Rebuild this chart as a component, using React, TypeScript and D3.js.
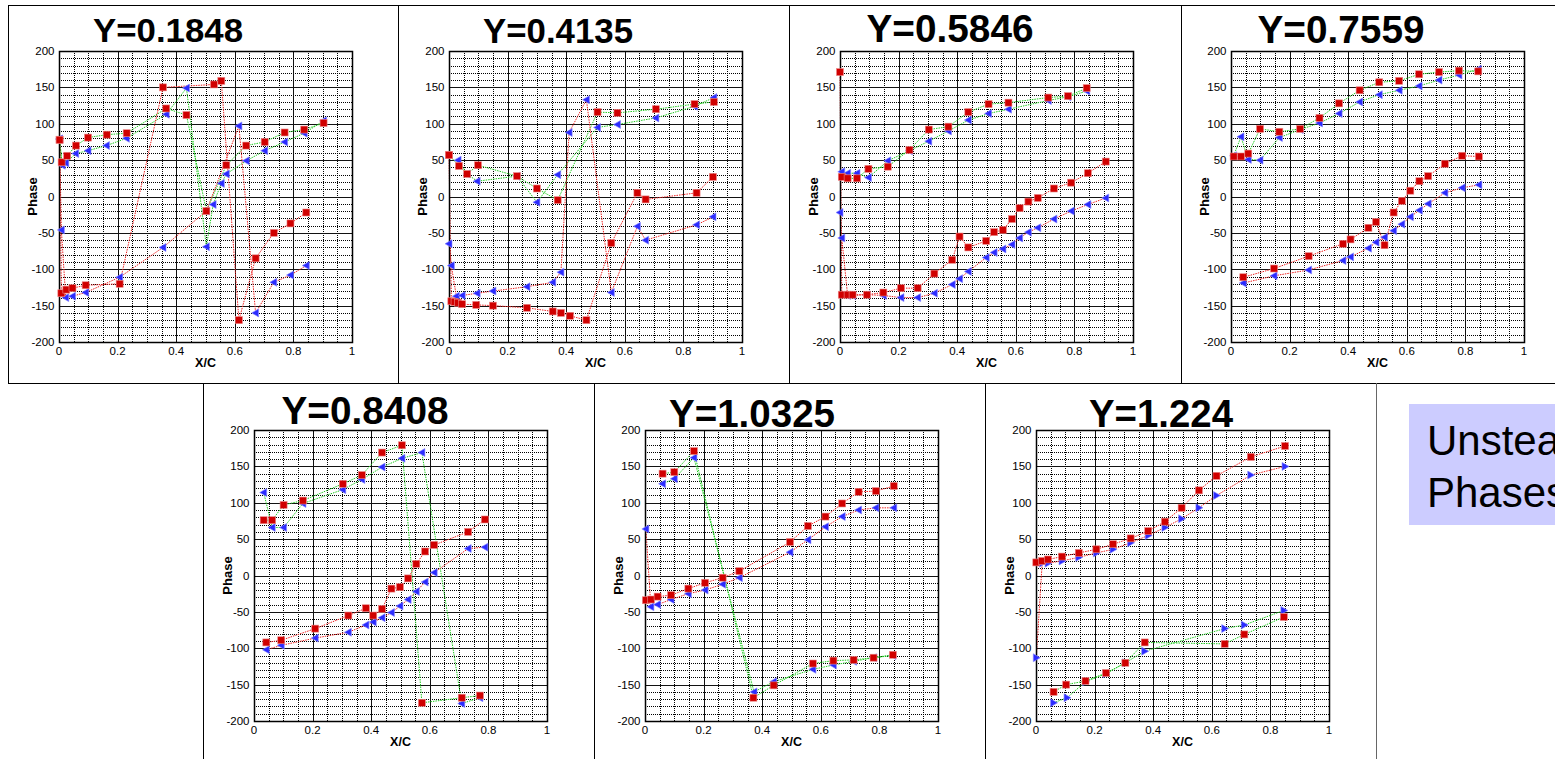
import React from "react";
import * as d3 from "d3";

type Pt = [number, number];

const titles = ["Y=0.1848", "Y=0.4135", "Y=0.5846", "Y=0.7559", "Y=0.8408", "Y=1.0325", "Y=1.224"];
const xTicks = [0, 0.2, 0.4, 0.6, 0.8, 1];
const yTicks = [-200, -150, -100, -50, 0, 50, 100, 150, 200];
const labelLines = ["Unsteady", "Phases"];

// Y=0.1848
const sqGreen1: Pt[] = [[0.002, 78], [0.009, 47], [0.028, 56], [0.058, 70], [0.099, 81], [0.163, 85], [0.231, 87], [0.366, 121], [0.435, 112], [0.503, -20], [0.571, 43], [0.639, 70], [0.702, 75], [0.77, 88], [0.837, 92], [0.903, 101]];
const sqRed1: Pt[] = [[0.002, 78], [0.008, -133], [0.025, -128], [0.046, -126], [0.091, -122], [0.207, -120], [0.355, 150], [0.529, 154], [0.554, 159], [0.614, -170], [0.671, -85], [0.733, -50], [0.79, -37], [0.844, -22]];
const triGreen1: Pt[] = [[0.002, 79], [0.011, 43], [0.023, 46], [0.057, 59], [0.099, 63], [0.162, 70], [0.23, 80], [0.366, 113], [0.435, 149], [0.503, -69], [0.526, -11], [0.554, 18], [0.571, 31], [0.639, 49], [0.702, 63], [0.77, 75], [0.837, 87], [0.903, 104]];
const triRed1: Pt[] = [[0.002, 79], [0.008, -46], [0.023, -139], [0.046, -137], [0.091, -132], [0.207, -111], [0.355, -70], [0.503, -20], [0.614, 97], [0.671, -160], [0.733, -118], [0.79, -108], [0.844, -95]];

// Y=0.4135
const sqGreen2: Pt[] = [[0, 57], [0.034, 42], [0.062, 31], [0.099, 43], [0.232, 28], [0.3, 11], [0.371, -5], [0.507, 116], [0.575, 115], [0.706, 120], [0.838, 127], [0.904, 130]];
const sqRed2: Pt[] = [[0, 57], [0.008, -144], [0.019, -145], [0.031, -146], [0.045, -148], [0.093, -149], [0.15, -150], [0.266, -153], [0.354, -158], [0.382, -160], [0.413, -164], [0.469, -170], [0.554, -64], [0.643, 5], [0.671, -4], [0.845, 5], [0.901, 27]];
const triGreen2: Pt[] = [[0.031, 50], [0.062, 31], [0.096, 21], [0.232, 28], [0.3, -8], [0.371, 30], [0.507, 95], [0.575, 99], [0.706, 108], [0.838, 124], [0.904, 136]];
const triRed2: Pt[] = [[0, -65], [0.008, -95], [0.025, -137], [0.045, -136], [0.096, -133], [0.15, -130], [0.266, -124], [0.354, -118], [0.382, -104], [0.41, 88], [0.469, 133], [0.554, -132], [0.643, -41], [0.671, -60], [0.845, -39], [0.901, -28]];

// Y=0.5846
const sqGreen3: Pt[] = [[0.006, 27], [0.026, 25], [0.058, 25], [0.097, 38], [0.163, 41], [0.237, 64], [0.303, 92], [0.37, 96], [0.438, 116], [0.507, 127], [0.575, 129], [0.711, 136], [0.778, 138], [0.842, 149]];
const sqRed3: Pt[] = [[0, 171], [0.006, -135], [0.026, -135], [0.043, -135], [0.092, -135], [0.148, -132], [0.208, -126], [0.265, -126], [0.322, -106], [0.383, -87], [0.408, -55], [0.438, -70], [0.499, -61], [0.526, -49], [0.556, -46], [0.587, -31], [0.613, -16], [0.643, -7], [0.675, -2], [0.73, 11], [0.789, 19], [0.846, 32], [0.907, 48]];
const triGreen3: Pt[] = [[0.006, 34], [0.026, 32], [0.058, 32], [0.097, 26], [0.163, 49], [0.237, 63], [0.303, 76], [0.37, 90], [0.438, 105], [0.507, 114], [0.575, 120], [0.711, 132], [0.778, 137], [0.842, 145]];
const triRed3: Pt[] = [[0, -22], [0.006, -57], [0.026, -136], [0.043, -136], [0.092, -135], [0.148, -136], [0.208, -139], [0.265, -139], [0.322, -133], [0.383, -121], [0.408, -113], [0.438, -103], [0.499, -84], [0.526, -77], [0.556, -72], [0.587, -66], [0.613, -57], [0.643, -49], [0.675, -43], [0.73, -31], [0.789, -20], [0.846, -11], [0.907, -2]];

// Y=0.7559
const sqGreen4: Pt[] = [[0.009, 55], [0.034, 55], [0.059, 59], [0.099, 93], [0.165, 89], [0.236, 93], [0.302, 108], [0.369, 128], [0.439, 146], [0.506, 157], [0.574, 159], [0.642, 168], [0.71, 171], [0.778, 173], [0.844, 172]];
const sqRed4: Pt[] = [[0.042, -111], [0.147, -99], [0.265, -82], [0.382, -65], [0.408, -59], [0.469, -43], [0.495, -35], [0.524, -67], [0.555, -22], [0.583, -6], [0.612, 8], [0.643, 21], [0.673, 28], [0.73, 45], [0.789, 56], [0.846, 55]];
const triGreen4: Pt[] = [[0.009, 56], [0.034, 82], [0.059, 51], [0.099, 50], [0.165, 81], [0.236, 92], [0.302, 101], [0.369, 114], [0.439, 130], [0.506, 140], [0.574, 146], [0.642, 152], [0.71, 160], [0.778, 167], [0.844, 175]];
const triRed4: Pt[] = [[0.042, -119], [0.147, -109], [0.265, -101], [0.382, -88], [0.408, -83], [0.469, -71], [0.495, -63], [0.524, -56], [0.555, -47], [0.583, -38], [0.612, -28], [0.643, -19], [0.673, -10], [0.73, 5], [0.789, 12], [0.846, 16]];

// Y=0.8408
const sqGreen5: Pt[] = [[0.033, 76], [0.062, 76], [0.101, 97], [0.167, 103], [0.303, 126], [0.368, 138], [0.437, 169], [0.505, 179], [0.573, -175], [0.709, -168], [0.771, -165]];
const sqRed5: Pt[] = [[0.042, -92], [0.093, -89], [0.209, -73], [0.322, -55], [0.382, -45], [0.407, -55], [0.437, -46], [0.469, -18], [0.498, -16], [0.526, -4], [0.554, 16], [0.584, 33], [0.615, 42], [0.731, 60], [0.788, 77]];
const triGreen5: Pt[] = [[0.033, 114], [0.062, 66], [0.101, 66], [0.167, 99], [0.303, 118], [0.368, 132], [0.437, 149], [0.505, 161], [0.573, 169], [0.709, -176], [0.771, -168]];
const triRed5: Pt[] = [[0.042, -102], [0.093, -96], [0.209, -86], [0.322, -78], [0.382, -68], [0.407, -64], [0.437, -58], [0.469, -51], [0.498, -42], [0.526, -33], [0.554, -22], [0.584, -9], [0.615, 4], [0.731, 37], [0.788, 39]];

// Y=1.0325
const sqGreen6: Pt[] = [[0.06, 140], [0.1, 142], [0.167, 171], [0.37, -168], [0.439, -151], [0.573, -121], [0.643, -117], [0.712, -116], [0.78, -113], [0.846, -109]];
const sqRed6: Pt[] = [[0.003, -34], [0.02, -33], [0.043, -29], [0.089, -27], [0.148, -18], [0.205, -10], [0.265, -3], [0.322, 6], [0.495, 46], [0.556, 68], [0.616, 81], [0.673, 99], [0.729, 115], [0.788, 116], [0.849, 123]];
const triGreen6: Pt[] = [[0.06, 126], [0.1, 133], [0.167, 162], [0.372, -160], [0.439, -146], [0.573, -129], [0.643, -123], [0.712, -118], [0.78, -113], [0.846, -110]];
const triRed6: Pt[] = [[0.003, 64], [0.02, -43], [0.043, -40], [0.089, -33], [0.148, -25], [0.205, -20], [0.265, -12], [0.322, -3], [0.495, 32], [0.556, 49], [0.616, 67], [0.673, 81], [0.729, 90], [0.788, 93], [0.849, 93]];

// Y=1.224
const sqGreen7: Pt[] = [[0.06, -160], [0.103, -150], [0.169, -145], [0.239, -134], [0.305, -120], [0.371, -92], [0.644, -94], [0.711, -81], [0.846, -57]];
const sqRed7: Pt[] = [[0.001, 18], [0.021, 20], [0.041, 22], [0.089, 26], [0.146, 31], [0.206, 36], [0.263, 43], [0.323, 51], [0.383, 61], [0.44, 74], [0.497, 93], [0.556, 117], [0.616, 137], [0.733, 163], [0.85, 178]];
const triGreen7: Pt[] = [[0.06, -175], [0.106, -168], [0.169, -146], [0.239, -135], [0.305, -120], [0.371, -104], [0.644, -73], [0.711, -68], [0.846, -48]];
const triRed7: Pt[] = [[0.001, -113], [0.021, 17], [0.041, 17], [0.089, 20], [0.146, 25], [0.206, 31], [0.263, 36], [0.323, 45], [0.383, 55], [0.44, 66], [0.497, 78], [0.556, 93], [0.616, 110], [0.733, 138], [0.85, 150]];

const panels = [
  { sqGreen: sqGreen1, sqRed: sqRed1, triGreen: triGreen1, triRed: triRed1 },
  { sqGreen: sqGreen2, sqRed: sqRed2, triGreen: triGreen2, triRed: triRed2 },
  { sqGreen: sqGreen3, sqRed: sqRed3, triGreen: triGreen3, triRed: triRed3 },
  { sqGreen: sqGreen4, sqRed: sqRed4, triGreen: triGreen4, triRed: triRed4 },
  { sqGreen: sqGreen5, sqRed: sqRed5, triGreen: triGreen5, triRed: triRed5 },
  { sqGreen: sqGreen6, sqRed: sqRed6, triGreen: triGreen6, triRed: triRed6 },
  { sqGreen: sqGreen7, sqRed: sqRed7, triGreen: triGreen7, triRed: triRed7 },
];

// layout
const plotW = 293;
const plotH = 291;
const plotPos: Pt[] = [[59, 51], [449, 51], [840, 51], [1231, 51], [254, 430], [645, 430], [1036, 430]];
const titleSize = [33, 35, 38, 38, 38, 38, 38];
const titleLen = [150, 150, 167, 167, 167, 166, 144];
const titleDx = [109, 109, 110, 110, 111, 107, 125];
const titleDy = [-9, -8, -9, -8, -6, -3.5, -3.5];
const triRight = [false, false, false, false, false, false, true];

const FONT = "'Liberation Sans', Arial, Helvetica, sans-serif";

const xScale = d3.scaleLinear().domain([0, 1]).range([0, plotW]);
const yScale = d3.scaleLinear().domain([-200, 200]).range([plotH, 0]);
const line = d3.line<Pt>().x(d => xScale(d[0])).y(d => yScale(d[1]));

const xMinor = d3.range(1, 20).filter(i => i % 4 !== 0).map(i => i * 0.05);
const yMinor = d3.range(-19, 20).filter(i => i % 5 !== 0).map(i => i * 10);

const px = (v: number) => Math.round(xScale(v)) + 0.5;
const py = (v: number) => Math.round(yScale(v)) + 0.5;

function Panel({ i }: { i: number }) {
  const p = panels[i];
  const [left, top] = plotPos[i];
  const triPath = triRight[i] ? "M4,0L-3,-4L-3,4Z" : "M-4,0L3,-4L3,4Z";
  const lineStyle = { fill: "none", strokeWidth: 1, strokeDasharray: "1.5 1" };
  return (
    <g transform={`translate(${left},${top})`}>
      <g shapeRendering="crispEdges">
        {xMinor.map(v => (
          <line key={"xm" + v} x1={px(v)} x2={px(v)} y1={0} y2={plotH} stroke="#000" strokeDasharray="1 1" />
        ))}
        {yMinor.map(v => (
          <line key={"ym" + v} x1={0} x2={plotW} y1={py(v)} y2={py(v)} stroke="#000" strokeDasharray="1 1" />
        ))}
        {xTicks.slice(1, -1).map(v => (
          <line key={"xM" + v} x1={px(v)} x2={px(v)} y1={0} y2={plotH} stroke="#111" strokeWidth={1.3} />
        ))}
        {yTicks.slice(1, -1).map(v => (
          <line key={"yM" + v} x1={0} x2={plotW} y1={py(v)} y2={py(v)} stroke="#111" strokeWidth={1.3} />
        ))}
      </g>
      <path d={line(p.sqGreen) || ""} stroke="#22cc22" {...lineStyle} />
      <path d={line(p.triGreen) || ""} stroke="#22cc22" {...lineStyle} />
      <path d={line(p.sqRed) || ""} stroke="#ee2222" {...lineStyle} />
      <path d={line(p.triRed) || ""} stroke="#ee2222" {...lineStyle} />
      <rect x={0.5} y={0.5} width={plotW} height={plotH} fill="none" stroke="#000" strokeWidth={1.5} />
      {[...p.triGreen, ...p.triRed].map((d, k) => (
        <path key={"t" + k} d={triPath} transform={`translate(${xScale(d[0])},${yScale(d[1])})`} fill="#2b2bff" stroke="#8a8aff" strokeWidth={0.6} />
      ))}
      {[...p.sqGreen, ...p.sqRed].map((d, k) => (
        <rect key={"s" + k} x={xScale(d[0]) - 3.5} y={yScale(d[1]) - 3.5} width={7} height={7} fill="#d00000" stroke="#ee8888" strokeWidth={0.6} />
      ))}
      {yTicks.map(v => (
        <text key={"yl" + v} x={-4.5} y={yScale(v) + 4} textAnchor="end" fontSize={11.5} fontFamily={FONT}>{v}</text>
      ))}
      {xTicks.map(v => (
        <text key={"xl" + v} x={xScale(v)} y={plotH + 13} textAnchor="middle" fontSize={11.5} fontFamily={FONT}>{String(v)}</text>
      ))}
      <text x={plotW / 2} y={plotH + 24.5} textAnchor="middle" fontSize={12.5} fontWeight="bold" fontFamily={FONT}>X/C</text>
      <text transform={`translate(${-22.5},${plotH / 2}) rotate(-90)`} textAnchor="middle" fontSize={13} fontWeight="bold" fontFamily={FONT}>Phase</text>
      <text x={titleDx[i]} y={titleDy[i]} textAnchor="middle" fontSize={titleSize[i]} fontWeight="bold" fontFamily={FONT}
        textLength={titleLen[i]} lengthAdjust="spacingAndGlyphs">{titles[i]}</text>
    </g>
  );
}

export default function App() {
  const topCols = [8.5, 398.5, 789.5, 1181.5];
  const botCols = [203.5, 594.5, 985.5, 1376.5];
  return (
    <svg width={1555} height={759} style={{ position: "absolute", left: 0, top: 0, display: "block", background: "#fff" }}>
      <g stroke="#000" strokeWidth={1} shapeRendering="crispEdges">
        <line x1={8} x2={1555} y1={5.5} y2={5.5} />
        <line x1={8} x2={1555} y1={383.5} y2={383.5} />
        {topCols.map(x => <line key={"tc" + x} x1={x} x2={x} y1={5} y2={384} />)}
        {botCols.map(x => <line key={"bc" + x} x1={x} x2={x} y1={383} y2={759} stroke={x > 1300 ? "#666" : "#000"} strokeWidth={x > 1300 ? 1.5 : 1} />)}
      </g>
      {panels.map((_, i) => <Panel key={i} i={i} />)}
      <rect x={1409} y={404} width={200} height={121} fill="#ccccff" />
      {labelLines.map((t, k) => (
        <text key={t} x={1427} y={455 + k * 52} fontSize={42} fontFamily={FONT} fill="#000">{t}</text>
      ))}
    </svg>
  );
}
